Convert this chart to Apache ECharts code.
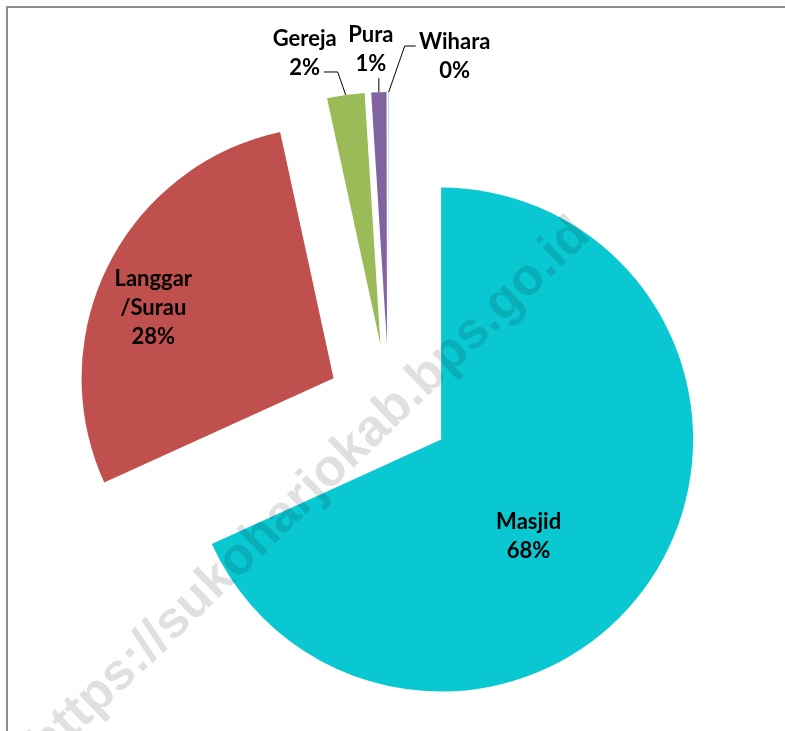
<!DOCTYPE html>
<html>
<head>
<meta charset="utf-8">
<script src="https://cdn.jsdelivr.net/npm/echarts@6/dist/echarts.min.js"></script>
<style>
  html, body { margin: 0; padding: 0; background: #fff; }
  #main { width: 785px; height: 731px; }
</style>
</head>
<body>
<div id="main"></div>
<script>
// jenis tempat ibadah
var categories = ['Masjid', 'Langgar\n/Surau', 'Gereja', 'Pura', 'Wihara'];
// persentase
var shares = [68.2, 28.4, 2.4, 0.97, 0.03];
var colors = ['#0AC8D2', '#C0504D', '#9BBB59', '#8064A2', '#4BACC6'];

var watermark = 'https://sukoharjokab.bps.go.id';

// geometri pie (irisan dipisah / explode)
var cx = 389, cy = 406, R = 252, explode = 62;

// posisi label relatif ke titik busur irisan
var labelStyle = [
    { inside: true, dx: -21, dy: 27 },
    { inside: true, dx: -65, dy: -12 },
    { line: [[-8, -23], [-22, -23]], at: [-41, -42] },
    { line: [[0, -14]], at: [-8, -43] },
    { line: [[16, -46], [27, -46]], at: [66, -36] }
];

var total = shares.reduce(function (a, b) { return a + b; }, 0);
var centers = [];
var arcPts = [];
var acc = 0;
shares.forEach(function (v) {
    var mid = (acc + v / 2) / total * 2 * Math.PI;
    acc += v;
    var s = Math.sin(mid), c = Math.cos(mid);
    centers.push([cx + explode * s, cy - explode * c]);
    arcPts.push([cx + (explode + R) * s, cy - (explode + R) * c]);
});

var chart = echarts.init(document.getElementById('main'));

// satu seri pie per irisan, masing-masing digeser ke luar
var series = categories.map(function (nm, i) {
    var st = labelStyle[i];
    return {
        type: 'pie',
        center: centers[i],
        radius: R,
        startAngle: 90,
        clockwise: true,
        silent: true,
        avoidLabelOverlap: false,
        emphasis: { disabled: true },
        itemStyle: { borderWidth: 0 },
        label: {
            color: '#000',
            fontFamily: 'Lato, "Open Sans", sans-serif',
            fontWeight: 'bold',
            fontSize: 22,
            lineHeight: 29,
            align: 'center',
            formatter: function (p) {
                return p.name + '\n' + Math.round(p.percent) + '%';
            }
        },
        labelLine: {
            lineStyle: { color: '#000', width: 1 }
        },
        labelLayout: function (p) {
            if (p.dataIndex !== i) return {};
            if (st.inside) {
                return { dx: st.dx, dy: st.dy };
            }
            var a = arcPts[i];
            var pts = [a.slice()];
            st.line.forEach(function (d) { pts.push([a[0] + d[0], a[1] + d[1]]); });
            return {
                x: a[0] + st.at[0],
                y: a[1] + st.at[1],
                align: 'center',
                verticalAlign: 'middle',
                labelLinePoints: pts
            };
        },
        data: categories.map(function (name, j) {
            var mine = j === i;
            return {
                name: name,
                value: shares[j],
                itemStyle: { color: mine ? colors[j] : 'rgba(0,0,0,0)' },
                label: { show: mine, position: st.inside ? 'inside' : 'outside' },
                labelLine: { show: mine && !st.inside }
            };
        })
    };
});

var option = {
    animation: false,
    graphic: [
        {
            type: 'rect',
            z: 0,
            shape: { x: 7, y: 7, width: 900, height: 900 },
            style: { fill: 'none', stroke: '#8e8e8e', lineWidth: 2 }
        },
        {
            type: 'text',
            z: 100,
            x: 310,
            y: 490,
            rotation: 44 * Math.PI / 180,
            style: {
                text: watermark,
                font: 'bold 52px "Liberation Sans", Arial, sans-serif',
                fill: 'rgba(0,0,0,0.12)',
                align: 'center',
                verticalAlign: 'middle'
            }
        }
    ],
    series: series
};

chart.setOption(option);
</script>
</body>
</html>
